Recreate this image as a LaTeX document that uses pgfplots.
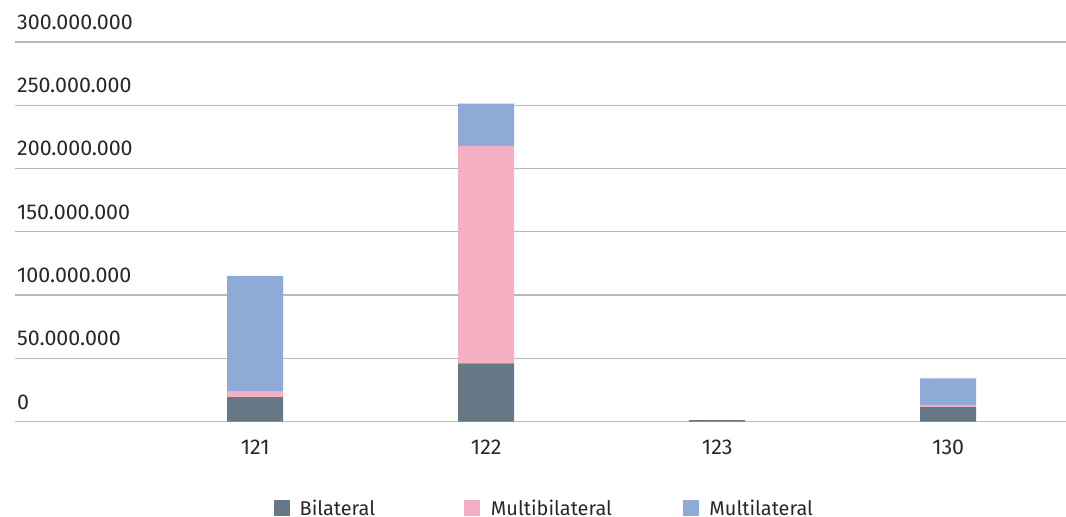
\documentclass[border=0pt]{standalone}
\usepackage{pgfplots}
\pgfplotsset{compat=1.18}
\usepackage{fontspec}
\setmainfont{Fira Sans}
\definecolor{bil}{RGB}{102,120,133}
\definecolor{mbil}{RGB}{245,175,194}
\definecolor{mul}{RGB}{142,170,215}
\definecolor{txt}{RGB}{40,40,40}
\begin{document}
\begin{tikzpicture}
\path[use as bounding box] (0,0) rectangle (1066bp,517bp);
\begin{axis}[
  at={(15bp,95.3bp)}, anchor=south west,
  scale only axis, width=1051bp, height=379.7bp,
  ymin=0, ymax=300000000,
  xmin=-1.04, xmax=3.51,
  ybar stacked, bar width=56bp,
  xtick={0,1,2,3}, xticklabels={121,122,123,130},
  ytick={0,50000000,100000000,150000000,200000000,250000000,300000000},
  yticklabels={0,50.000.000,100.000.000,150.000.000,200.000.000,250.000.000,300.000.000},
  ymajorgrids, grid style={line width=1.3bp, color=black!28},
  axis line style={draw=none}, major tick length=0pt,
  scaled y ticks=false,
  yticklabel style={anchor=base west, inner sep=0pt, xshift=2bp, yshift=12.7bp, font=\fontsize{21.5}{21.5}\selectfont, text=txt},
  xticklabel style={anchor=base, inner sep=0pt, yshift=-32.3bp, font=\fontsize{21.5}{21.5}\selectfont, text=txt},
  legend columns=3,
  legend style={at={(0.5,-0.2273)}, anchor=center, xshift=3bp, draw=none, fill=none,
    font=\fontsize{20}{20}\selectfont, text=txt, column sep=0pt,
    nodes={inner sep=0pt},
    /tikz/every even column/.append style={column sep=0pt}},
  legend image code/.code={\fill[#1] (0bp,-8bp) rectangle (16bp,8bp);},
  legend cell align=left,
]
\addplot[fill=bil, draw=none] coordinates {(0,19400000) (1,46100000) (2,1200000) (3,11500000)};
\addplot[fill=mbil, draw=none] coordinates {(0,4700000) (1,171800000) (2,0) (3,1600000)};
\addplot[fill=mul, draw=none] coordinates {(0,91100000) (1,33500000) (2,0) (3,21200000)};
\legend{\makebox[174.5bp][l]{\hspace{9.7bp}Bilateral},\makebox[203bp][l]{\hspace{10.5bp}Multibilateral},\hspace{10bp}Multilateral}
\end{axis}
\end{tikzpicture}
\end{document}
